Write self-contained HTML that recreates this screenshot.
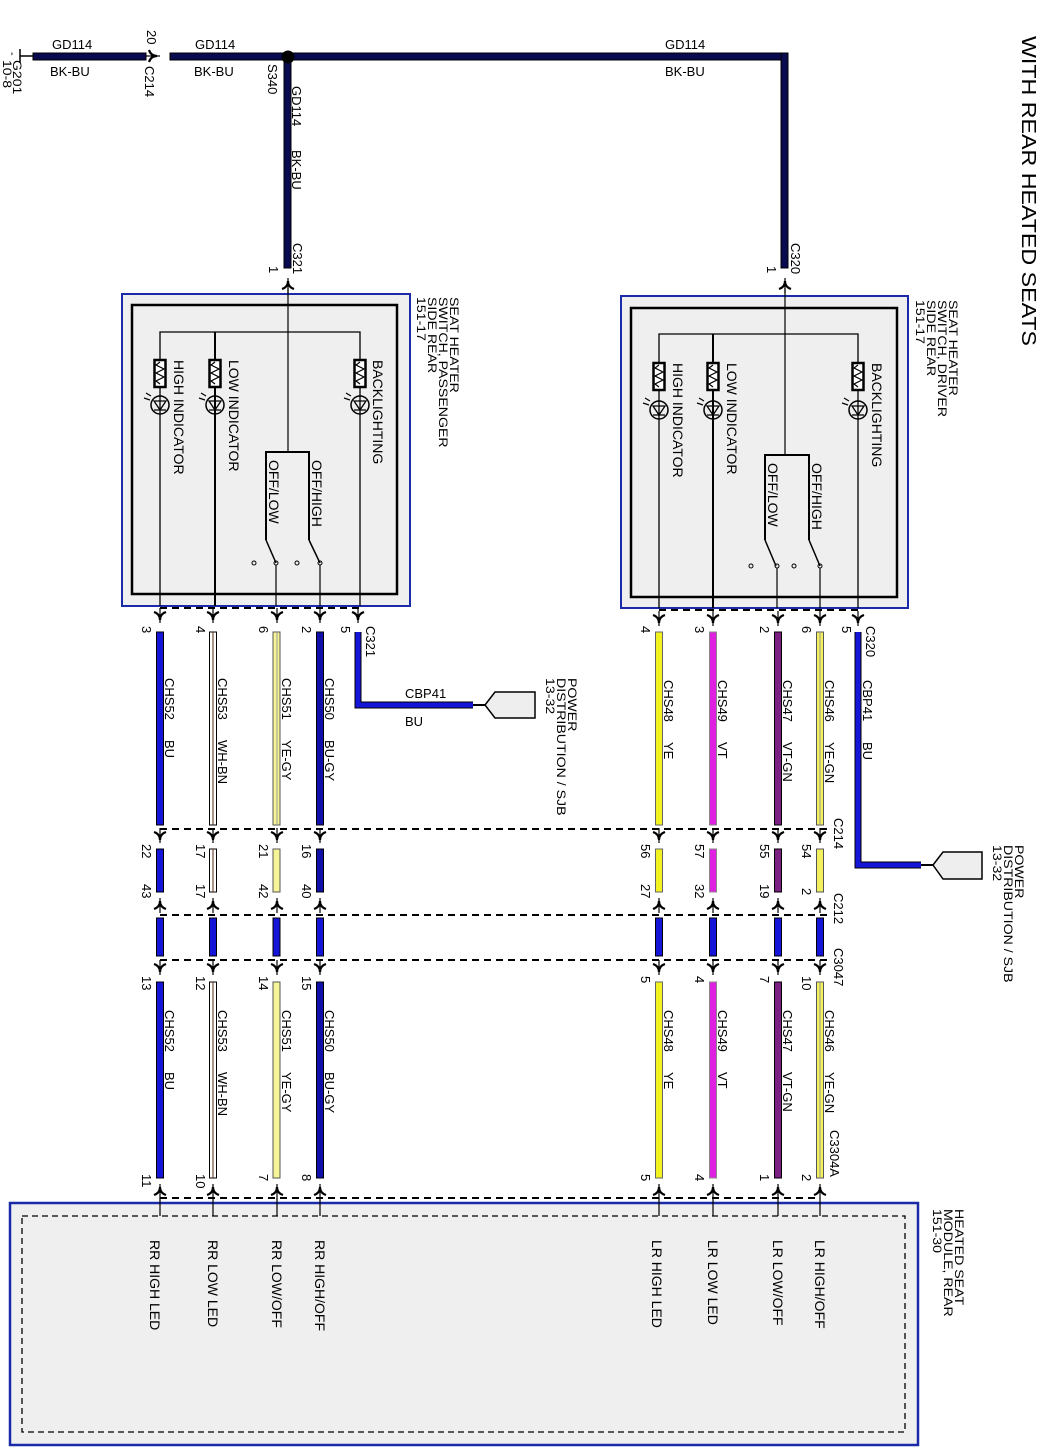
<!DOCTYPE html>
<html><head><meta charset="utf-8"><style>
html,body{margin:0;padding:0;background:#fff}
svg{display:block}
text{font-family:"Liberation Sans",sans-serif;fill:#000}
</style></head><body>
<svg width="1050" height="1454" viewBox="0 0 1050 1454" xmlns="http://www.w3.org/2000/svg">
<defs>
<g id="ad"><path d="M-6,-5 Q0,-3 0,3 Q0,-3 6,-5" fill="none" stroke="#000" stroke-width="2.2"/><line x1="0" y1="-9" x2="0" y2="6" stroke="#000" stroke-width="1.2"/></g>
<g id="au"><path d="M-6,5 Q0,3 0,-3 Q0,3 6,5" fill="none" stroke="#000" stroke-width="2.2"/><line x1="0" y1="-6" x2="0" y2="9" stroke="#000" stroke-width="1.2"/></g>
<g id="res"><rect x="-5.5" y="0" width="11" height="27" fill="#fff" stroke="#000" stroke-width="2.5"/><path d="M0,2 l-4,3 l8,4 l-8,4 l8,4 l-8,4 l4,3" fill="none" stroke="#000" stroke-width="1.2"/></g>
<g id="led"><circle cx="0" cy="0" r="9" fill="none" stroke="#000" stroke-width="1.5"/><path d="M-6,-4 L6,-4 L0,5 Z M-6,5 L6,5" fill="none" stroke="#000" stroke-width="1.3"/><path d="M-9,-9 l-5,-3 M-10,-5 l-6,-2" stroke="#000" stroke-width="1.2"/></g>
</defs>

<text transform="translate(1022 36) rotate(90)" font-size="20" textLength="310" lengthAdjust="spacingAndGlyphs">WITH REAR HEATED SEATS</text>

<line x1="20" y1="49" x2="20" y2="63" stroke="#000" stroke-width="1.5"/>
<line x1="20" y1="56" x2="33" y2="56" stroke="#000" stroke-width="1.5"/>
<text transform="translate(9 52) rotate(90)" font-size="11">-</text>
<text transform="translate(13 60) rotate(90) scale(1.17 1)" font-size="12">G201</text>
<text transform="translate(3 60) rotate(90) scale(1.17 1)" font-size="12">10-8</text>
<rect x="33" y="53" width="113" height="7" fill="#0a0a50" stroke="#000" stroke-width="1"/>
<g transform="translate(154 56) rotate(-90)"><use href="#ad"/></g>
<rect x="170" y="53" width="115" height="7" fill="#0a0a50" stroke="#000" stroke-width="1"/>
<rect x="291" y="53" width="497" height="7" fill="#0a0a50" stroke="#000" stroke-width="1"/>
<rect x="781" y="53" width="7" height="215" fill="#0a0a50" stroke="#000" stroke-width="1"/>
<rect x="284" y="60" width="7" height="208" fill="#0a0a50" stroke="#000" stroke-width="1"/>
<circle cx="288" cy="57" r="6.5" fill="#000"/>
<text x="52" y="49" font-size="13">GD114</text><text x="50" y="76" font-size="13">BK-BU</text>
<text x="195" y="49" font-size="13">GD114</text><text x="194" y="76" font-size="13">BK-BU</text>
<text x="665" y="49" font-size="13">GD114</text><text x="665" y="76" font-size="13">BK-BU</text>
<text transform="translate(147 30) rotate(90)" font-size="13">20</text>
<text transform="translate(145 66) rotate(90)" font-size="13">C214</text>
<text transform="translate(268 64) rotate(90)" font-size="13">S340</text>
<text transform="translate(292 86) rotate(90)" font-size="13">GD114</text>
<text transform="translate(292 150) rotate(90)" font-size="13">BK-BU</text>
<text transform="translate(293 243) rotate(90)" font-size="13">C321</text>
<text transform="translate(269 266) rotate(90)" font-size="13">1</text>
<text transform="translate(791 243) rotate(90)" font-size="13">C320</text>
<text transform="translate(767 266) rotate(90)" font-size="13">1</text>
<use href="#ad" transform="translate(288 284) rotate(180)"/>
<use href="#ad" transform="translate(785 284) rotate(180)"/>

<!-- Left switch -->
<rect x="122" y="294" width="288" height="312" fill="#efefef" stroke="#1a2aa8" stroke-width="2"/>
<rect x="132" y="305" width="265" height="289" fill="none" stroke="#000" stroke-width="2.5"/>
<line x1="288" y1="288" x2="288" y2="452" stroke="#000" stroke-width="1.2"/>
<polyline points="160,606 160,332 360,332 360,606" fill="none" stroke="#000" stroke-width="1.3"/>
<line x1="215" y1="332" x2="215" y2="606" stroke="#000" stroke-width="2"/>
<use href="#res" transform="translate(160 360)"/><use href="#res" transform="translate(215 360)"/><use href="#res" transform="translate(360 360)"/>
<use href="#led" transform="translate(160 405)"/><use href="#led" transform="translate(215 405)"/><use href="#led" transform="translate(360 405)"/>
<polyline points="266,540 266,452 309,452 309,540" fill="none" stroke="#000" stroke-width="2"/>
<line x1="266" y1="540" x2="276" y2="563" stroke="#000" stroke-width="1.5"/>
<line x1="309" y1="540" x2="320" y2="563" stroke="#000" stroke-width="1.5"/>
<circle cx="254" cy="563" r="2" fill="none" stroke="#000"/><circle cx="276" cy="563" r="2" fill="none" stroke="#000"/><circle cx="297" cy="563" r="2" fill="none" stroke="#000"/><circle cx="320" cy="563" r="2" fill="none" stroke="#000"/>
<line x1="276" y1="565" x2="276" y2="606" stroke="#000" stroke-width="1.2"/><line x1="320" y1="565" x2="320" y2="606" stroke="#000" stroke-width="1.2"/>
<g font-size="14">
<text transform="translate(373 360) rotate(90)">BACKLIGHTING</text>
<text transform="translate(229 360) rotate(90)">LOW INDICATOR</text>
<text transform="translate(174 360) rotate(90)">HIGH INDICATOR</text>
<text transform="translate(312 460) rotate(90)">OFF/HIGH</text>
<text transform="translate(269 460) rotate(90)">OFF/LOW</text>
</g>
<g font-size="12">
<text transform="translate(450 297) rotate(90) scale(1.18 1)">SEAT HEATER</text>
<text transform="translate(439 297) rotate(90) scale(1.18 1)">SWITCH, PASSENGER</text>
<text transform="translate(428 297) rotate(90) scale(1.18 1)">SIDE REAR</text>
<text transform="translate(417 297) rotate(90) scale(1.18 1)">151-17</text>
</g>

<!-- Right switch -->
<rect x="621" y="296" width="287" height="312" fill="#efefef" stroke="#1a2aa8" stroke-width="2"/>
<rect x="631" y="308" width="266" height="289" fill="none" stroke="#000" stroke-width="2.5"/>
<line x1="785" y1="288" x2="785" y2="455" stroke="#000" stroke-width="1.2"/>
<polyline points="659,608 659,334 858,334 858,608" fill="none" stroke="#000" stroke-width="1.3"/>
<line x1="713" y1="334" x2="713" y2="608" stroke="#000" stroke-width="2"/>
<use href="#res" transform="translate(659 363)"/><use href="#res" transform="translate(713 363)"/><use href="#res" transform="translate(858 363)"/>
<use href="#led" transform="translate(659 410)"/><use href="#led" transform="translate(713 410)"/><use href="#led" transform="translate(858 410)"/>
<polyline points="765,540 765,455 809,455 809,540" fill="none" stroke="#000" stroke-width="2"/>
<line x1="765" y1="540" x2="776" y2="566" stroke="#000" stroke-width="1.5"/>
<line x1="809" y1="540" x2="820" y2="566" stroke="#000" stroke-width="1.5"/>
<circle cx="751" cy="566" r="2" fill="none" stroke="#000"/><circle cx="777" cy="566" r="2" fill="none" stroke="#000"/><circle cx="794" cy="566" r="2" fill="none" stroke="#000"/><circle cx="820" cy="566" r="2" fill="none" stroke="#000"/>
<line x1="777" y1="568" x2="777" y2="608" stroke="#000" stroke-width="1.2"/><line x1="820" y1="568" x2="820" y2="608" stroke="#000" stroke-width="1.2"/>
<g font-size="14">
<text transform="translate(872 363) rotate(90)">BACKLIGHTING</text>
<text transform="translate(727 363) rotate(90)">LOW INDICATOR</text>
<text transform="translate(673 363) rotate(90)">HIGH INDICATOR</text>
<text transform="translate(812 463) rotate(90)">OFF/HIGH</text>
<text transform="translate(768 463) rotate(90)">OFF/LOW</text>
</g>
<g font-size="12">
<text transform="translate(949 300) rotate(90) scale(1.18 1)">SEAT HEATER</text>
<text transform="translate(938 300) rotate(90) scale(1.18 1)">SWITCH, DRIVER</text>
<text transform="translate(927 300) rotate(90) scale(1.18 1)">SIDE REAR</text>
<text transform="translate(916 300) rotate(90) scale(1.18 1)">151-17</text>
</g>

<g stroke="#000" stroke-width="2" stroke-dasharray="7,5" fill="none">
<line x1="160" y1="608" x2="360" y2="608"/>
<line x1="659" y1="610" x2="858" y2="610"/>
<line x1="160" y1="829" x2="830" y2="829"/>
<line x1="160" y1="915" x2="830" y2="915"/>
<line x1="160" y1="960" x2="830" y2="960"/>
<line x1="160" y1="1198" x2="820" y2="1198"/>
</g>

<g stroke="#000" stroke-width="1">
<rect x="156.5" y="632" width="7" height="193" fill="#1515d8"/>
<rect x="209.5" y="632" width="7" height="193" fill="#fff"/>
<rect x="273" y="632" width="7" height="193" fill="#f5f598" stroke="#555"/>
<rect x="316.5" y="632" width="7" height="193" fill="#1010a8"/>
<rect x="156.5" y="849" width="7" height="43" fill="#1515d8"/>
<rect x="209.5" y="849" width="7" height="43" fill="#fff"/>
<rect x="273" y="849" width="7" height="43" fill="#f5f598" stroke="#555"/>
<rect x="316.5" y="849" width="7" height="43" fill="#1010a8"/>
<rect x="156.5" y="918" width="7" height="38" fill="#1515d8"/>
<rect x="209.5" y="918" width="7" height="38" fill="#1515d8"/>
<rect x="273" y="918" width="7" height="38" fill="#1515d8"/>
<rect x="316.5" y="918" width="7" height="38" fill="#1515d8"/>
<rect x="156.5" y="982" width="7" height="196" fill="#1515d8"/>
<rect x="209.5" y="982" width="7" height="196" fill="#fff"/>
<rect x="273" y="982" width="7" height="196" fill="#f5f598" stroke="#555"/>
<rect x="316.5" y="982" width="7" height="196" fill="#1010a8"/>
</g>
<line x1="213" y1="632" x2="213" y2="825" stroke="#5a2a10" stroke-width="1"/>
<line x1="213" y1="849" x2="213" y2="892" stroke="#5a2a10" stroke-width="1"/>
<line x1="213" y1="982" x2="213" y2="1178" stroke="#5a2a10" stroke-width="1"/>
<path d="M358,632 L358,705 L473,705" fill="none" stroke="#000" stroke-width="7"/>
<path d="M358,632 L358,705 L473,705" fill="none" stroke="#1515d8" stroke-width="5"/>
<line x1="473" y1="705" x2="485" y2="705" stroke="#000" stroke-width="2"/>
<path d="M485,705 L495,692 L535,692 L535,718 L495,718 Z" fill="#eee" stroke="#000" stroke-width="1.5"/>
<text x="405" y="698" font-size="13">CBP41</text><text x="405" y="726" font-size="13">BU</text>
<g font-size="12">
<text transform="translate(568 678) rotate(90) scale(1.18 1)">POWER</text>
<text transform="translate(557 678) rotate(90) scale(1.18 1)">DISTRIBUTION / SJB</text>
<text transform="translate(546 678) rotate(90) scale(1.18 1)">13-32</text>
</g>

<g stroke="#000" stroke-width="1">
<rect x="655.5" y="632" width="7" height="193" fill="#f2f220" stroke="#666"/>
<rect x="709.5" y="632" width="7" height="193" fill="#e020e0" stroke="#888"/>
<rect x="774.5" y="632" width="7" height="193" fill="#7a2080"/>
<rect x="816.5" y="632" width="7" height="193" fill="#f3f060" stroke="#555"/>
<rect x="655.5" y="849" width="7" height="43" fill="#f2f220" stroke="#666"/>
<rect x="709.5" y="849" width="7" height="43" fill="#e020e0" stroke="#888"/>
<rect x="774.5" y="849" width="7" height="43" fill="#7a2080"/>
<rect x="816.5" y="849" width="7" height="43" fill="#f3f060" stroke="#555"/>
<rect x="655.5" y="918" width="7" height="38" fill="#1515d8"/>
<rect x="709.5" y="918" width="7" height="38" fill="#1515d8"/>
<rect x="774.5" y="918" width="7" height="38" fill="#1515d8"/>
<rect x="816.5" y="918" width="7" height="38" fill="#1515d8"/>
<rect x="655.5" y="982" width="7" height="196" fill="#f2f220" stroke="#666"/>
<rect x="709.5" y="982" width="7" height="196" fill="#e020e0" stroke="#888"/>
<rect x="774.5" y="982" width="7" height="196" fill="#7a2080"/>
<rect x="816.5" y="982" width="7" height="196" fill="#f3f060" stroke="#555"/>
</g>
<line x1="277" y1="632" x2="277" y2="825" stroke="#999" stroke-width="1"/>
<line x1="820" y1="632" x2="820" y2="825" stroke="#999" stroke-width="1"/>
<line x1="820" y1="982" x2="820" y2="1178" stroke="#999" stroke-width="1"/>
<path d="M858,632 L858,865 L921,865" fill="none" stroke="#000" stroke-width="7"/>
<path d="M858,632 L858,865 L921,865" fill="none" stroke="#1515d8" stroke-width="5"/>
<line x1="921" y1="865" x2="933" y2="865" stroke="#000" stroke-width="2"/>
<path d="M933,865 L943,852 L982,852 L982,879 L943,879 Z" fill="#eee" stroke="#000" stroke-width="1.5"/>
<g font-size="12">
<text transform="translate(1015 845) rotate(90) scale(1.18 1)">POWER</text>
<text transform="translate(1004 845) rotate(90) scale(1.18 1)">DISTRIBUTION / SJB</text>
<text transform="translate(993 845) rotate(90) scale(1.18 1)">13-32</text>
</g>

<g>
<use href="#ad" x="160" y="617"/><use href="#ad" x="213" y="617"/><use href="#ad" x="277" y="617"/><use href="#ad" x="320" y="617"/><use href="#ad" x="358" y="617"/>
<use href="#ad" x="659" y="620"/><use href="#ad" x="713" y="620"/><use href="#ad" x="778" y="620"/><use href="#ad" x="820" y="620"/><use href="#ad" x="858" y="620"/>
<use href="#ad" x="160" y="837"/><use href="#ad" x="213" y="837"/><use href="#ad" x="277" y="837"/><use href="#ad" x="320" y="837"/>
<use href="#ad" x="659" y="837"/><use href="#ad" x="713" y="837"/><use href="#ad" x="778" y="837"/><use href="#ad" x="820" y="837"/>
<use href="#au" x="160" y="904"/><use href="#au" x="213" y="904"/><use href="#au" x="277" y="904"/><use href="#au" x="320" y="904"/>
<use href="#au" x="659" y="904"/><use href="#au" x="713" y="904"/><use href="#au" x="778" y="904"/><use href="#au" x="820" y="904"/>
<use href="#ad" x="160" y="969"/><use href="#ad" x="213" y="969"/><use href="#ad" x="277" y="969"/><use href="#ad" x="320" y="969"/>
<use href="#ad" x="659" y="969"/><use href="#ad" x="713" y="969"/><use href="#ad" x="778" y="969"/><use href="#ad" x="820" y="969"/>
<use href="#au" x="160" y="1190"/><use href="#au" x="213" y="1190"/><use href="#au" x="277" y="1190"/><use href="#au" x="320" y="1190"/>
<use href="#au" x="659" y="1190"/><use href="#au" x="713" y="1190"/><use href="#au" x="778" y="1190"/><use href="#au" x="820" y="1190"/>
</g>

<g font-size="13">
<text transform="translate(142 626) rotate(90)">3</text><text transform="translate(196 626) rotate(90)">4</text><text transform="translate(259 626) rotate(90)">6</text><text transform="translate(302 626) rotate(90)">2</text><text transform="translate(341 626) rotate(90)">5</text>
<text transform="translate(366 626) rotate(90)">C321</text>
<text transform="translate(641 626) rotate(90)">4</text><text transform="translate(695 626) rotate(90)">3</text><text transform="translate(760 626) rotate(90)">2</text><text transform="translate(802 626) rotate(90)">6</text><text transform="translate(842 626) rotate(90)">5</text>
<text transform="translate(866 626) rotate(90)">C320</text>
<text transform="translate(165 678) rotate(90)">CHS52</text><text transform="translate(165 740) rotate(90)">BU</text>
<text transform="translate(218 678) rotate(90)">CHS53</text><text transform="translate(218 740) rotate(90)">WH-BN</text>
<text transform="translate(282 678) rotate(90)">CHS51</text><text transform="translate(282 740) rotate(90)">YE-GY</text>
<text transform="translate(325 678) rotate(90)">CHS50</text><text transform="translate(325 740) rotate(90)">BU-GY</text>
<text transform="translate(664 680) rotate(90)">CHS48</text><text transform="translate(664 742) rotate(90)">YE</text>
<text transform="translate(718 680) rotate(90)">CHS49</text><text transform="translate(718 742) rotate(90)">VT</text>
<text transform="translate(783 680) rotate(90)">CHS47</text><text transform="translate(783 742) rotate(90)">VT-GN</text>
<text transform="translate(825 680) rotate(90)">CHS46</text><text transform="translate(825 742) rotate(90)">YE-GN</text>
<text transform="translate(863 680) rotate(90)">CBP41</text><text transform="translate(863 742) rotate(90)">BU</text>

<text transform="translate(142 844) rotate(90)">22</text><text transform="translate(196 844) rotate(90)">17</text><text transform="translate(259 844) rotate(90)">21</text><text transform="translate(302 844) rotate(90)">16</text>
<text transform="translate(142 884) rotate(90)">43</text><text transform="translate(196 884) rotate(90)">17</text><text transform="translate(259 884) rotate(90)">42</text><text transform="translate(302 884) rotate(90)">40</text>
<text transform="translate(641 844) rotate(90)">56</text><text transform="translate(695 844) rotate(90)">57</text><text transform="translate(760 844) rotate(90)">55</text><text transform="translate(802 844) rotate(90)">54</text>
<text transform="translate(641 884) rotate(90)">27</text><text transform="translate(695 884) rotate(90)">32</text><text transform="translate(760 884) rotate(90)">19</text><text transform="translate(802 888) rotate(90)">2</text>
<text transform="translate(834 818) rotate(90)">C214</text>
<text transform="translate(834 893) rotate(90)">C212</text>
<text transform="translate(834 948) rotate(90)">C3047</text>
<text transform="translate(142 976) rotate(90)">13</text><text transform="translate(196 976) rotate(90)">12</text><text transform="translate(259 976) rotate(90)">14</text><text transform="translate(302 976) rotate(90)">15</text>
<text transform="translate(641 976) rotate(90)">5</text><text transform="translate(695 976) rotate(90)">4</text><text transform="translate(760 976) rotate(90)">7</text><text transform="translate(802 976) rotate(90)">10</text>
<text transform="translate(165 1010) rotate(90)">CHS52</text><text transform="translate(165 1072) rotate(90)">BU</text>
<text transform="translate(218 1010) rotate(90)">CHS53</text><text transform="translate(218 1072) rotate(90)">WH-BN</text>
<text transform="translate(282 1010) rotate(90)">CHS51</text><text transform="translate(282 1072) rotate(90)">YE-GY</text>
<text transform="translate(325 1010) rotate(90)">CHS50</text><text transform="translate(325 1072) rotate(90)">BU-GY</text>
<text transform="translate(664 1010) rotate(90)">CHS48</text><text transform="translate(664 1072) rotate(90)">YE</text>
<text transform="translate(718 1010) rotate(90)">CHS49</text><text transform="translate(718 1072) rotate(90)">VT</text>
<text transform="translate(783 1010) rotate(90)">CHS47</text><text transform="translate(783 1072) rotate(90)">VT-GN</text>
<text transform="translate(825 1010) rotate(90)">CHS46</text><text transform="translate(825 1072) rotate(90)">YE-GN</text>
<text transform="translate(830 1130) rotate(90)">C3304A</text>
<text transform="translate(142 1174) rotate(90)">11</text><text transform="translate(196 1174) rotate(90)">10</text><text transform="translate(259 1174) rotate(90)">7</text><text transform="translate(302 1174) rotate(90)">8</text>
<text transform="translate(641 1174) rotate(90)">5</text><text transform="translate(695 1174) rotate(90)">4</text><text transform="translate(760 1174) rotate(90)">1</text><text transform="translate(802 1174) rotate(90)">2</text>
</g>

<rect x="10" y="1203" width="908" height="242" fill="#efefef" stroke="#1a2aa8" stroke-width="2.5"/>
<rect x="22" y="1216" width="883" height="216" fill="none" stroke="#000" stroke-width="1.3" stroke-dasharray="6,4"/>
<g stroke="#000" stroke-width="1.2">
<line x1="160" y1="1198" x2="160" y2="1216"/><line x1="213" y1="1198" x2="213" y2="1216"/><line x1="277" y1="1198" x2="277" y2="1216"/><line x1="320" y1="1198" x2="320" y2="1216"/>
<line x1="659" y1="1198" x2="659" y2="1216"/><line x1="713" y1="1198" x2="713" y2="1216"/><line x1="778" y1="1198" x2="778" y2="1216"/><line x1="820" y1="1198" x2="820" y2="1216"/>
</g>
<g font-size="14">
<text transform="translate(150 1240) rotate(90)">RR HIGH LED</text>
<text transform="translate(208 1240) rotate(90)">RR LOW LED</text>
<text transform="translate(272 1240) rotate(90)">RR LOW/OFF</text>
<text transform="translate(315 1240) rotate(90)">RR HIGH/OFF</text>
<text transform="translate(652 1240) rotate(90)">LR HIGH LED</text>
<text transform="translate(708 1240) rotate(90)">LR LOW LED</text>
<text transform="translate(773 1240) rotate(90)">LR LOW/OFF</text>
<text transform="translate(815 1240) rotate(90)">LR HIGH/OFF</text>
</g>
<g font-size="12">
<text transform="translate(955 1209) rotate(90) scale(1.18 1)">HEATED SEAT</text>
<text transform="translate(944 1209) rotate(90) scale(1.18 1)">MODULE, REAR</text>
<text transform="translate(933 1209) rotate(90) scale(1.18 1)">151-30</text>
</g>
</svg>
</body></html>
